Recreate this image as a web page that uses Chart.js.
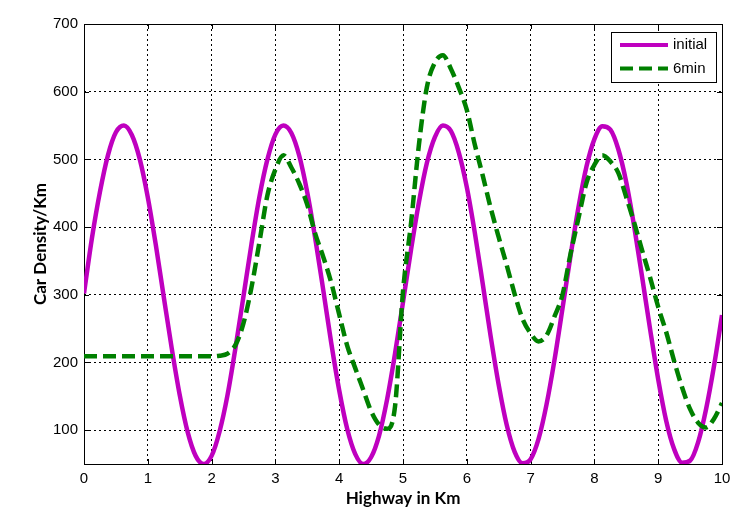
<!DOCTYPE html>
<html>
<head>
<meta charset="utf-8">
<script src="https://cdn.jsdelivr.net/npm/chart.js@4/dist/chart.umd.min.js"></script>
<style>
  html, body { margin: 0; padding: 0; background: #fff; }
  canvas { display: block; }
</style>
</head>
<body>
<canvas id="grafica" width="741" height="523"></canvas>
<script>
// posiciones en la autopista (km), paso 0.125
const kmPos = [
  0, 0.125, 0.25, 0.375, 0.5, 0.625, 0.75, 0.875, 1, 1.125, 1.25, 1.375, 1.5, 1.625, 1.75, 1.875,
  2, 2.125, 2.25, 2.375, 2.5, 2.625, 2.75, 2.875, 3, 3.125, 3.25, 3.375, 3.5, 3.625, 3.75, 3.875,
  4, 4.125, 4.25, 4.375, 4.5, 4.625, 4.75, 4.875, 5, 5.125, 5.25, 5.375, 5.5, 5.625, 5.75, 5.875,
  6, 6.125, 6.25, 6.375, 6.5, 6.625, 6.75, 6.875, 7, 7.125, 7.25, 7.375, 7.5, 7.625, 7.75, 7.875,
  8, 8.125, 8.25, 8.375, 8.5, 8.625, 8.75, 8.875, 9, 9.125, 9.25, 9.375, 9.5, 9.625, 9.75, 9.875, 10
];
// densidad inicial
const densInicial = [
  302, 384, 452, 506, 540, 550, 536, 500, 444, 374,
  297, 221, 152, 97, 62, 50, 62, 98, 152, 222,
  298, 375, 445, 500, 537, 550, 539, 505, 451, 383,
  307, 229, 159, 102, 65, 50, 60, 92, 145, 213,
  289, 366, 437, 495, 533, 550, 542, 510, 459, 392,
  316, 238, 167, 108, 68, 51, 57, 87, 138, 204,
  280, 357, 429, 489, 530, 549, 544, 515, 466, 400,
  325, 248, 175, 114, 72, 52, 55, 82, 131, 195,
  270
];
// densidad a los 6 minutos
const dens6min = [
  209, 209, 209, 209, 209, 209, 209, 209, 209, 209,
  209, 209, 209, 209, 209, 209, 209, 210, 213, 226,
  258, 311, 378, 447, 485, 506, 488, 464, 433, 390,
  356, 318, 271, 225, 192, 160, 128, 108, 102, 135,
  305, 405, 522, 607, 643, 654, 634, 606, 573, 522,
  476, 428, 385, 344, 301, 264, 243, 231, 240, 268,
  300, 360, 413, 465, 492, 506, 497, 480, 444, 406,
  365, 325, 282, 245, 202, 163, 131, 111, 104, 117,
  140
];
const xTicks = [0, 1, 2, 3, 4, 5, 6, 7, 8, 9, 10];
const yTicks = [100, 200, 300, 400, 500, 600, 700];

const colorInicial = '#bf00bf';
const color6min = '#008000';
const fuenteTicks = '15px "Liberation Sans", Arial, sans-serif';

// caja, marcas interiores y leyenda al estilo matlab
const cajaMatlab = {
  id: 'cajaMatlab',
  beforeDatasetsDraw(chart) {
    const { ctx, chartArea: a, scales } = chart;
    ctx.save();
    ctx.strokeStyle = '#000';
    ctx.lineWidth = 1;
    ctx.beginPath();
    xTicks.forEach(v => {
      const x = Math.round(scales.x.getPixelForValue(v)) + 0.5;
      ctx.moveTo(x, a.bottom); ctx.lineTo(x, a.bottom - 5);
      ctx.moveTo(x, a.top); ctx.lineTo(x, a.top + 5);
    });
    yTicks.forEach(v => {
      const y = Math.round(scales.y.getPixelForValue(v)) + 0.5;
      ctx.moveTo(a.left, y); ctx.lineTo(a.left + 5, y);
      ctx.moveTo(a.right, y); ctx.lineTo(a.right - 5, y);
    });
    ctx.stroke();
    ctx.strokeRect(Math.round(a.left) + 0.5, Math.round(a.top) + 0.5,
      Math.round(a.right - a.left), Math.round(a.bottom - a.top));
    ctx.restore();
  },
  afterDraw(chart) {
    const { ctx, chartArea: a } = chart;
    const bx = a.right - 111, by = a.top + 8, bw = 105, bh = 50;
    ctx.save();
    ctx.fillStyle = '#fff';
    ctx.fillRect(bx, by, bw, bh);
    ctx.strokeStyle = '#000';
    ctx.lineWidth = 1;
    ctx.strokeRect(bx + 0.5, by + 0.5, bw, bh);
    const items = chart.data.datasets;
    items.forEach((ds, i) => {
      const y = by + 13 + i * 23.5;
      ctx.strokeStyle = ds.borderColor;
      ctx.lineWidth = 4;
      ctx.setLineDash(ds.borderDash || []);
      ctx.beginPath();
      ctx.moveTo(bx + 9, y);
      ctx.lineTo(bx + 57, y);
      ctx.stroke();
      ctx.setLineDash([]);
      ctx.fillStyle = '#000';
      ctx.font = fuenteTicks;
      ctx.textBaseline = 'middle';
      ctx.fillText(ds.label, bx + 62, y);
    });
    ctx.restore();
  }
};

new Chart(document.getElementById('grafica'), {
  type: 'line',
  data: {
    datasets: [
      {
        label: 'initial',
        data: kmPos.map((x, i) => ({ x: x, y: densInicial[i] })),
        borderColor: colorInicial,
        borderWidth: 4.5,
        pointRadius: 0,
        cubicInterpolationMode: 'monotone',
        clip: 0,
        order: 1
      },
      {
        label: '6min',
        data: kmPos.map((x, i) => ({ x: x, y: dens6min[i] })),
        borderColor: color6min,
        borderWidth: 4.5,
        borderDash: [13, 6],
        pointRadius: 0,
        cubicInterpolationMode: 'monotone',
        clip: 0,
        order: 0
      }
    ]
  },
  options: {
    responsive: false,
    animation: false,
    devicePixelRatio: 1,
    layout: { padding: { top: 24, right: 19, left: 0, bottom: 0 } },
    plugins: { legend: { display: false }, tooltip: { enabled: false } },
    scales: {
      x: {
        type: 'linear',
        min: 0,
        max: 10,
        afterBuildTicks: s => { s.ticks = xTicks.map(v => ({ value: v })); },
        afterFit: s => { s.height = 59; },
        grid: { color: '#000', lineWidth: 1, drawTicks: false },
        border: { display: false, dash: [2, 3] },
        ticks: { color: '#000', padding: 6, font: { family: '"Liberation Sans", Arial', size: 15 } },
        title: {
          display: true,
          text: 'Highway in Km',
          color: '#000',
          font: { family: 'Lato', size: 17, weight: 'bold' },
          padding: { top: 0, bottom: 14 }
        }
      },
      y: {
        min: 50,
        max: 700,
        afterBuildTicks: s => { s.ticks = yTicks.map(v => ({ value: v })); },
        afterFit: s => { s.width = 84; },
        grid: { color: '#000', lineWidth: 1, drawTicks: false },
        border: { display: false, dash: [2, 3] },
        ticks: { color: '#000', padding: 6, font: { family: '"Liberation Sans", Arial', size: 15 } },
        title: {
          display: true,
          text: 'Car Density/Km',
          color: '#000',
          font: { family: 'Lato', size: 17, weight: 'bold' },
          padding: { top: 30, bottom: 0 }
        }
      }
    }
  },
  plugins: [cajaMatlab]
});
</script>
</body>
</html>
